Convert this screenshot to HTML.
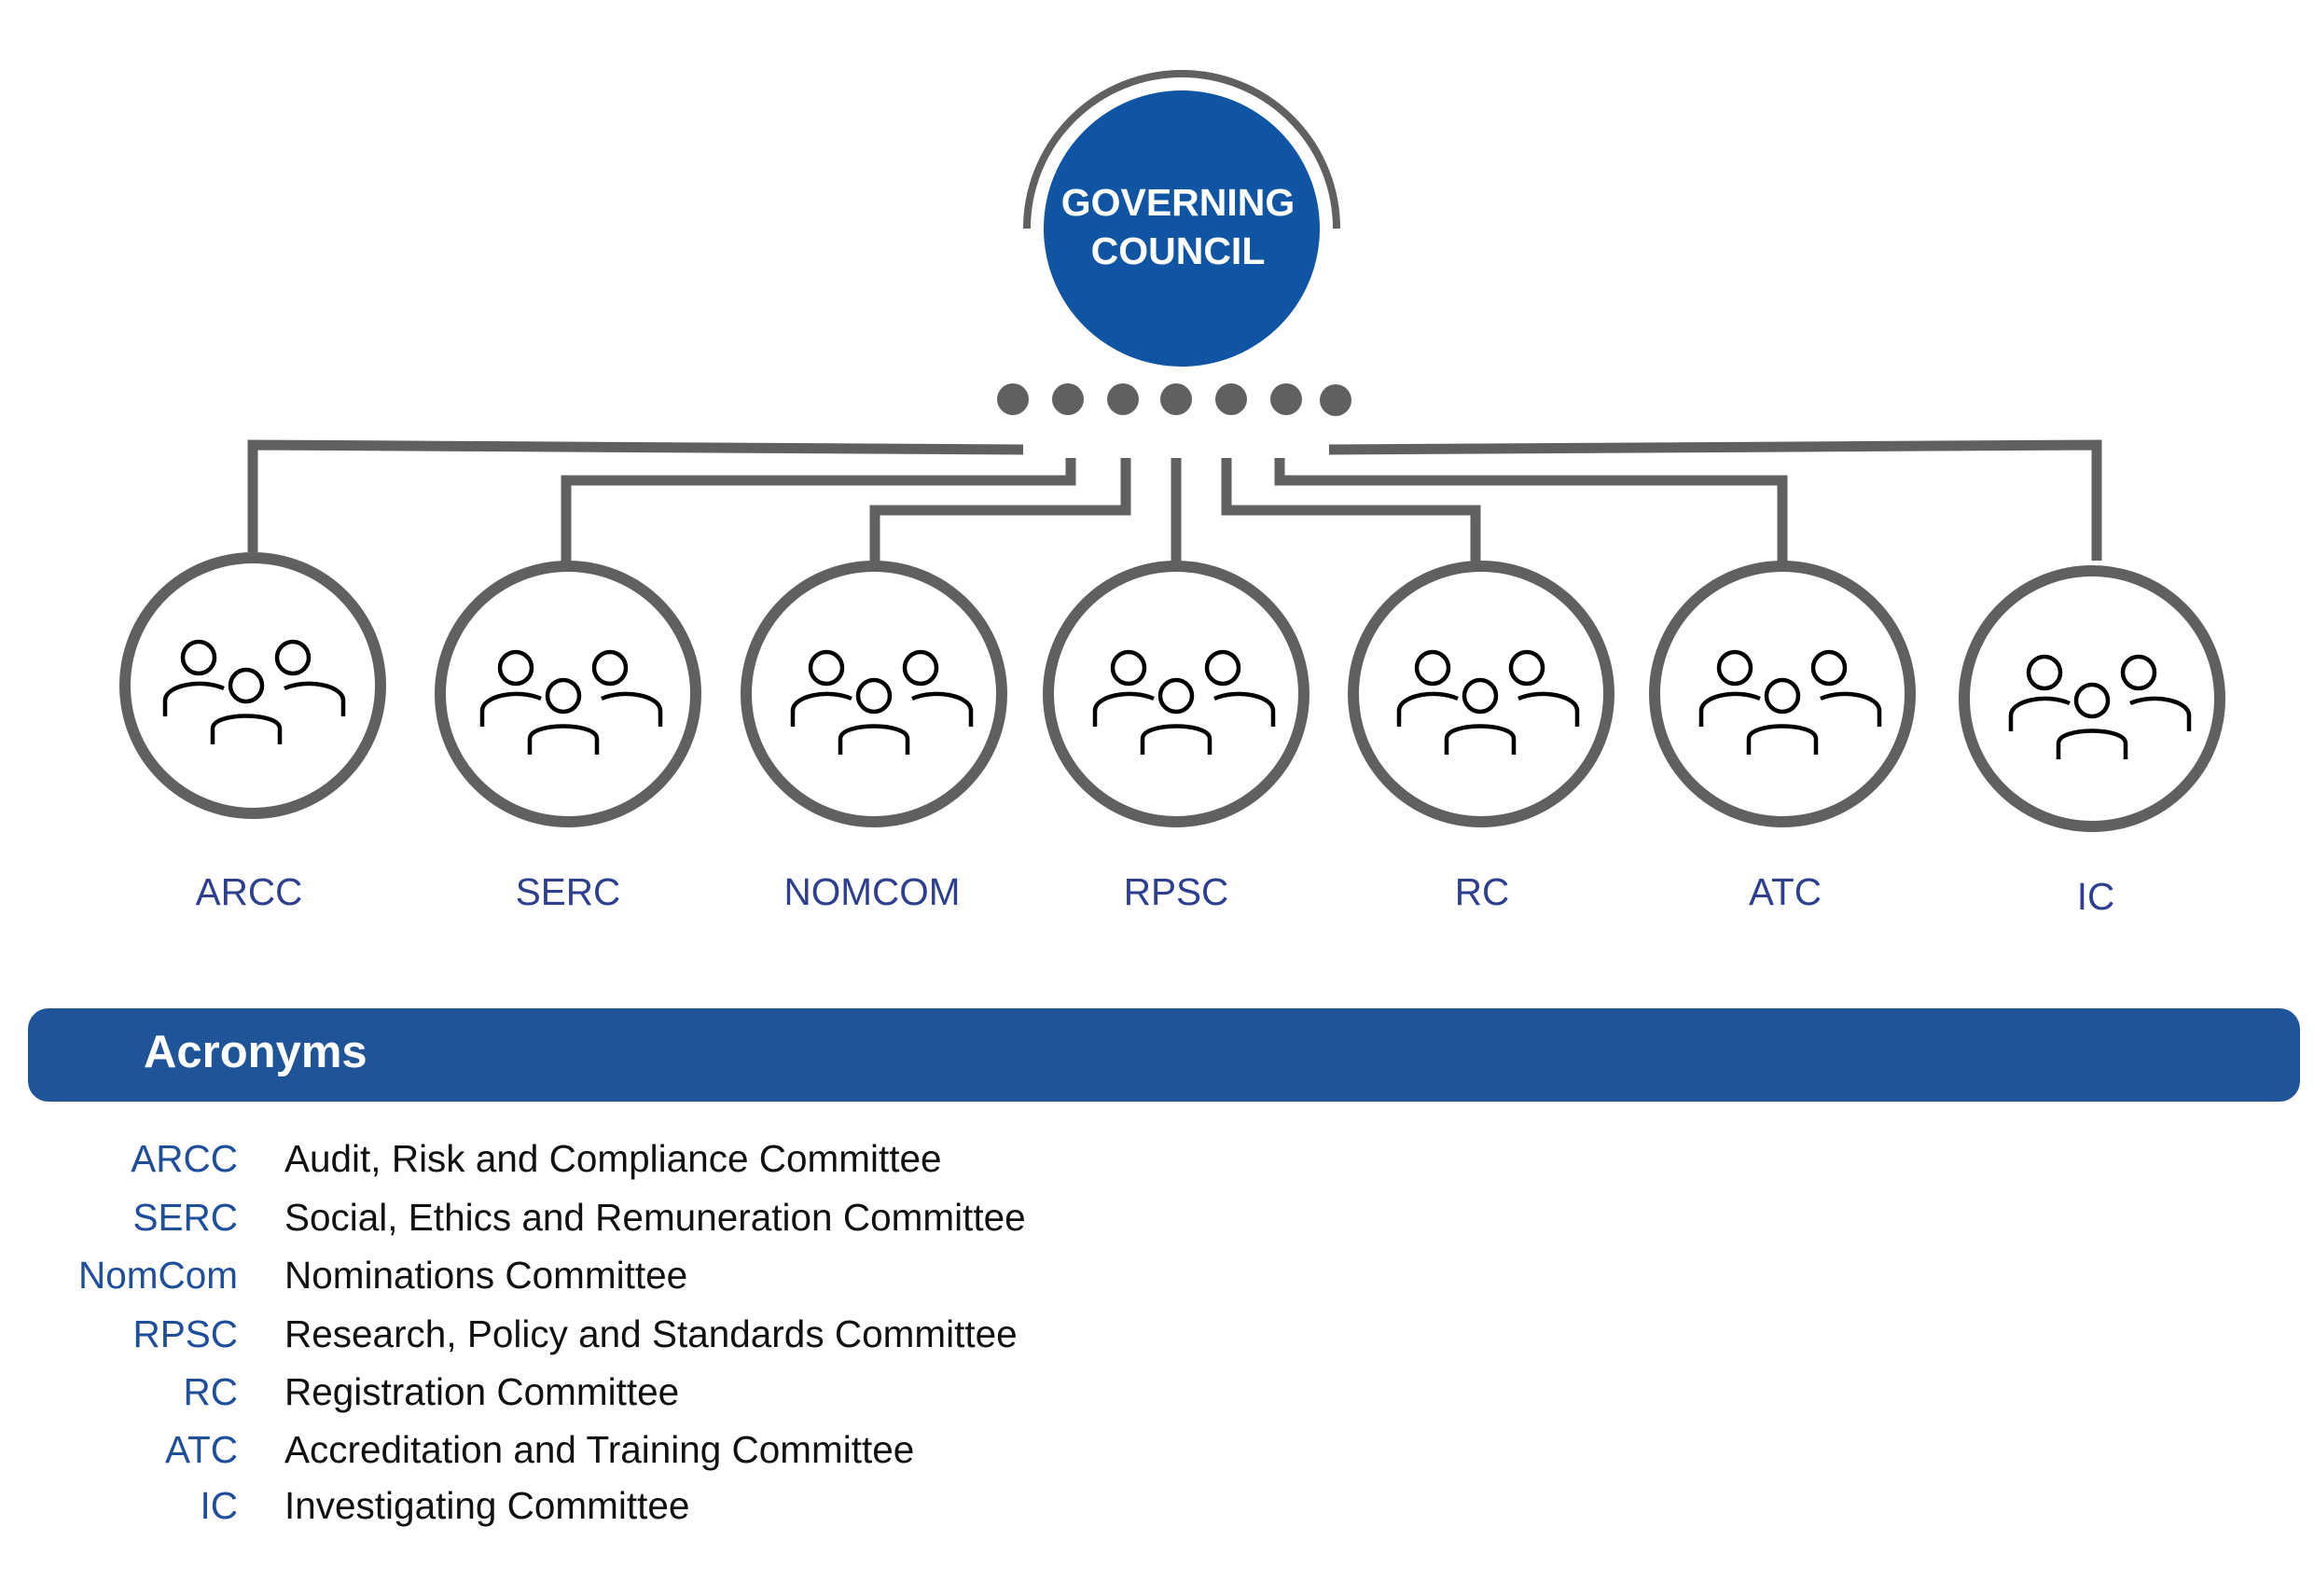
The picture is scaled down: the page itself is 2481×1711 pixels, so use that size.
<!DOCTYPE html>
<html><head><meta charset="utf-8"><style>
html,body{margin:0;padding:0;background:#fff;}
svg{display:block;}
text{font-family:"Liberation Sans",Arial,sans-serif;}
</style></head><body>
<svg width="2481" height="1711" viewBox="0 0 2481 1711" xmlns="http://www.w3.org/2000/svg">
<defs>
<g id="ppl" fill="none" stroke="#000" stroke-width="4.5">
<circle cx="-57" cy="-28" r="17"/>
<circle cx="44" cy="-28" r="17"/>
<circle cx="-6" cy="2" r="17"/>
<path d="M-93,35 V18 C-93,2 -55,-6 -30,5"/>
<path d="M98,35 V18 C98,2 60,-6 35,5"/>
<path d="M-42,65 V48 C-42,30 30,30 30,48 V65"/>
</g>
</defs>
<path d="M1101,245 A166,166 0 0 1 1433,245" fill="none" stroke="#606060" stroke-width="8"/>
<circle cx="1267" cy="245" r="148" fill="#0f55a3"/>
<text x="1263" y="231" font-size="41" font-weight="bold" fill="#fff" text-anchor="middle">GOVERNING</text>
<text x="1263" y="283" font-size="41" font-weight="bold" fill="#fff" text-anchor="middle">COUNCIL</text>
<g fill="#606060">
<circle cx="1086" cy="428" r="17"/><circle cx="1145" cy="428" r="17"/><circle cx="1204" cy="428" r="17"/>
<circle cx="1261" cy="428" r="17"/><circle cx="1320" cy="428" r="17"/><circle cx="1379" cy="428" r="17"/><circle cx="1432" cy="429" r="17"/>
</g>
<g fill="none" stroke="#606060" stroke-width="11">
<path d="M271,592 V477 L1097,482"/>
<path d="M607,603 V515 H1148 V491"/>
<path d="M938,603 V547 H1207 V491"/>
<path d="M1261,603 V491"/>
<path d="M1315,491 V547 H1582 V603"/>
<path d="M1372,491 V515 H1911 V603"/>
<path d="M1425,482 L2248,477 V601"/>
</g>
<g fill="#fff" stroke="#606060" stroke-width="12">
<circle cx="271" cy="735" r="137"/>
<circle cx="609" cy="744" r="137"/>
<circle cx="937" cy="744" r="137"/>
<circle cx="1261" cy="744" r="137"/>
<circle cx="1588" cy="744" r="137"/>
<circle cx="1911" cy="744" r="137"/>
<circle cx="2243" cy="749" r="137"/>
</g>
<use href="#ppl" x="270" y="733"/>
<use href="#ppl" x="610" y="744"/>
<use href="#ppl" x="943" y="744"/>
<use href="#ppl" x="1267" y="744"/>
<use href="#ppl" x="1593" y="744"/>
<use href="#ppl" x="1917" y="744"/>
<use href="#ppl" x="2249" y="749"/>
<g font-size="40.5" fill="#2e3f8f" text-anchor="middle">
<text x="267" y="970">ARCC</text>
<text x="609" y="970">SERC</text>
<text x="935" y="970">NOMCOM</text>
<text x="1261" y="970">RPSC</text>
<text x="1589" y="970">RC</text>
<text x="1914" y="970">ATC</text>
<text x="2247" y="975">IC</text>
</g>
<rect x="30" y="1081" width="2436" height="100" rx="22" fill="#1f5499"/>
<text x="154" y="1144" font-size="49" font-weight="bold" fill="#fff">Acronyms</text>
<g font-size="40.5" fill="#1f4e9a" text-anchor="end">
<text x="255" y="1256">ARCC</text>
<text x="255" y="1319">SERC</text>
<text x="255" y="1381">NomCom</text>
<text x="255" y="1444">RPSC</text>
<text x="255" y="1506">RC</text>
<text x="255" y="1568">ATC</text>
<text x="255" y="1628">IC</text>
</g>
<g font-size="40.5" fill="#111">
<text x="305" y="1256">Audit, Risk and Compliance Committee</text>
<text x="305" y="1319">Social, Ethics and Remuneration Committee</text>
<text x="305" y="1381">Nominations Committee</text>
<text x="305" y="1444">Research, Policy and Standards Committee</text>
<text x="305" y="1506">Registration Committee</text>
<text x="305" y="1568">Accreditation and Training Committee</text>
<text x="305" y="1628">Investigating Committee</text>
</g>
</svg>
</body></html>
